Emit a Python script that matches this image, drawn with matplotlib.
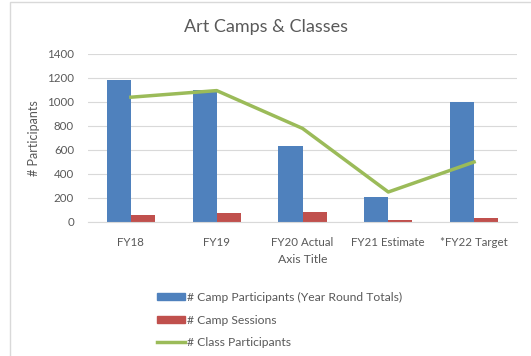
import matplotlib.pyplot as plt
import numpy as np
from matplotlib.patches import Rectangle
from matplotlib.lines import Line2D

plt.rcParams["font.family"] = ["Lato", "DejaVu Sans"]

categories = ["FY18", "FY19", "FY20 Actual", "FY21 Estimate", "*FY22 Target"]
camp_participants = [1180, 1100, 635, 205, 1000]
camp_sessions = [55, 75, 85, 15, 35]
class_participants = [1040, 1095, 780, 250, 500]

BLUE = "#4f81bd"
RED = "#c0504d"
GREEN = "#9bbb59"
TXT = "#595959"

fig = plt.figure(figsize=(5.31, 3.56), dpi=100)
ax = fig.add_axes([88 / 531, 1 - 222 / 356, 429 / 531, 168 / 356])

# outer chart frame
fig.patches.append(Rectangle((10 / 531, -0.1), 1.2, 1 - 2 / 356 + 0.1,
                             transform=fig.transFigure, fill=False,
                             edgecolor="#d9d9d9", linewidth=1))

x = np.arange(len(categories))
w = 0.28
ax.bar(x - w / 2, camp_participants, w, color=BLUE, zorder=2)
ax.bar(x + w / 2, camp_sessions, w, color=RED, zorder=2)
ax.plot(x, class_participants, color=GREEN, linewidth=2.5, zorder=3)

ax.set_xlim(-0.5, len(categories) - 0.5)
ax.set_ylim(0, 1400)
ax.set_yticks(range(0, 1401, 200))
ax.yaxis.grid(True, color="#d9d9d9", linewidth=0.8, zorder=0)
ax.set_axisbelow(True)
for s in ["top", "right", "left"]:
    ax.spines[s].set_visible(False)
ax.spines["bottom"].set_color("#d9d9d9")
ax.tick_params(axis="both", length=0, colors=TXT, labelsize=8.3)
ax.tick_params(axis="x", pad=11)
ax.tick_params(axis="y", pad=10)
ax.set_xticks(x)
ax.set_xticklabels(categories)

ax.set_xlabel("Axis Title", color=TXT, fontsize=8.8, labelpad=4)
ax.set_ylabel("# Participants", color=TXT, fontsize=9, labelpad=5)
fig.text(0.5, 1 - 27 / 356, "Art Camps & Classes", ha="center", va="center",
         color=TXT, fontsize=13)

handles = [
    Rectangle((0, 0), 1, 1, color=BLUE),
    Rectangle((0, 0), 1, 1, color=RED),
    Line2D([], [], color=GREEN, linewidth=2.5),
]
labels = ["# Camp Participants (Year Round Totals)", "# Camp Sessions",
          "# Class Participants"]
fig.legend(handles, labels, loc="upper left",
           bbox_to_anchor=(151 / 531, 1 - 286 / 356), frameon=False,
           fontsize=8.7, labelcolor=TXT, handlelength=2.3, handleheight=0.55,
           handletextpad=0.15, labelspacing=0.95, borderpad=0)

fig.savefig("out.png", dpi=100)
